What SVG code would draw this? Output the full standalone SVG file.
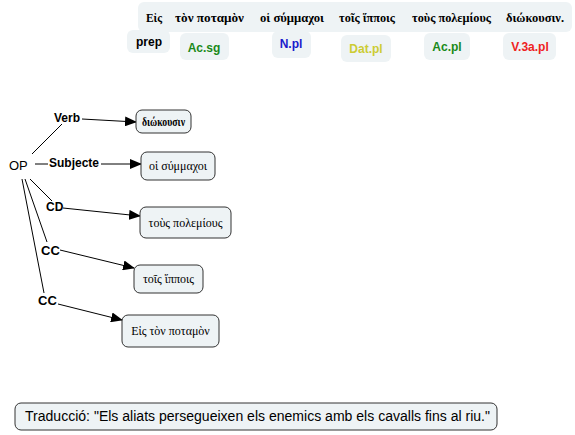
<svg xmlns="http://www.w3.org/2000/svg" width="575" height="435" viewBox="0 0 575 435">
<defs>
<marker id="ah" markerWidth="12" markerHeight="10" refX="11" refY="5" orient="auto" markerUnits="userSpaceOnUse">
<path d="M0,0 L12,5 L0,10 Z" fill="#000"/>
</marker>
<style>
.tag{fill:#eef3f5;stroke:none}
.node{fill:#eef3f5;stroke:#333;stroke-width:1}
.gk{font-family:"Liberation Serif","DejaVu Serif",serif;font-size:12px;fill:#000}
.gkb{font-family:"Liberation Serif","DejaVu Serif",serif;font-size:12px;font-weight:bold;fill:#000}
.lab{font-family:"Liberation Sans",Arial,sans-serif;font-size:12px;font-weight:bold;fill:#000}
.sans{font-family:"Liberation Sans",Arial,sans-serif;font-size:13px;fill:#000}
.tb{font-family:"Liberation Sans",Arial,sans-serif;font-size:12px;font-weight:bold;text-anchor:middle}
.con{stroke:#000;stroke-width:1;fill:none}
</style>
</defs>
<rect width="575" height="435" fill="#fff"/>

<g id="sentence">
<rect class="tag" x="138" y="2" width="434" height="30" rx="6"/>
<text class="gkb" x="146" y="22" textLength="16" lengthAdjust="spacingAndGlyphs">Εἰς</text>
<text class="gkb" x="175" y="22" textLength="69" lengthAdjust="spacingAndGlyphs">τὸν ποταμὸν</text>
<text class="gkb" x="260" y="22" textLength="64" lengthAdjust="spacingAndGlyphs">οἱ σύμμαχοι</text>
<text class="gkb" x="339" y="22" textLength="56" lengthAdjust="spacingAndGlyphs">τοῖς ἵπποις</text>
<text class="gkb" x="412" y="22" textLength="79" lengthAdjust="spacingAndGlyphs">τοὺς πολεμίους</text>
<text class="gkb" x="506" y="22" textLength="58" lengthAdjust="spacingAndGlyphs">διώκουσιν.</text>
</g>
<g id="tag-prep"><rect class="tag" x="127" y="30" width="43" height="23" rx="6"/><text class="tb" x="149" y="46" fill="#000">prep</text></g>
<g id="tag-acsg"><rect class="tag" x="180" y="33" width="49" height="27" rx="6"/><text class="tb" x="204" y="52" fill="#1a8a1a">Ac.sg</text></g>
<g id="tag-npl"><rect class="tag" x="272" y="31" width="39" height="27" rx="6"/><text class="tb" x="291" y="48" fill="#1a1acc">N.pl</text></g>
<g id="tag-datpl"><rect class="tag" x="341" y="35" width="50" height="27" rx="6"/><text class="tb" x="366" y="53" fill="#cccc33">Dat.pl</text></g>
<g id="tag-acpl"><rect class="tag" x="424" y="33" width="46" height="27" rx="6"/><text class="tb" x="447" y="51" fill="#1a8a1a">Ac.pl</text></g>
<g id="tag-v3apl"><rect class="tag" x="503" y="33" width="53" height="27" rx="6"/><text class="tb" x="530" y="51" fill="#ee2222">V.3a.pl</text></g>

<g id="connectors">
<line class="con" x1="32" y1="154" x2="62" y2="124"/>
<line class="con" x1="82" y1="119" x2="136" y2="122" marker-end="url(#ah)"/>
<line class="con" x1="35" y1="164" x2="48" y2="164"/>
<line class="con" x1="101" y1="164" x2="141" y2="164" marker-end="url(#ah)"/>
<line class="con" x1="30" y1="179" x2="52" y2="201"/>
<line class="con" x1="63" y1="208" x2="140" y2="216" marker-end="url(#ah)"/>
<line class="con" x1="25" y1="179" x2="47" y2="242"/>
<line class="con" x1="60" y1="250" x2="134" y2="268" marker-end="url(#ah)"/>
<line class="con" x1="22" y1="179" x2="44" y2="293"/>
<line class="con" x1="58" y1="304" x2="122" y2="320" marker-end="url(#ah)"/>
</g>

<g id="OP"><text class="sans" x="9" y="170">OP</text></g>
<g id="lab-verb"><text class="lab" x="54" y="122">Verb</text></g>
<g id="lab-subj"><text class="lab" x="49" y="167">Subjecte</text></g>
<g id="lab-cd"><text class="lab" x="46" y="211">CD</text></g>
<g id="lab-cc1"><text class="lab" x="41" y="255" style="font-size:13px">CC</text></g>
<g id="lab-cc2"><text class="lab" x="38" y="305" style="font-size:13px">CC</text></g>

<g id="n-verb"><rect class="node" x="136" y="110" width="55" height="23" rx="6"/><text class="gkb" x="142" y="126" textLength="43" lengthAdjust="spacingAndGlyphs">διώκουσιν</text></g>
<g id="n-subj"><rect class="node" x="141" y="152" width="74" height="28" rx="6"/><text class="gk" x="178" y="170" text-anchor="middle">οἱ σύμμαχοι</text></g>
<g id="n-cd"><rect class="node" x="140" y="207" width="91" height="31" rx="6"/><text class="gk" x="185.5" y="227" text-anchor="middle">τοὺς πολεμίους</text></g>
<g id="n-cc1"><rect class="node" x="134" y="265" width="69" height="28" rx="6"/><text class="gk" x="168.5" y="283" text-anchor="middle">τοῖς ἵπποις</text></g>
<g id="n-cc2"><rect class="node" x="122" y="315" width="97" height="32" rx="6"/><text class="gk" x="170.5" y="335" text-anchor="middle">Εἰς τὸν ποταμὸν</text></g>

<g id="translation"><rect class="node" x="15" y="403" width="482" height="27" rx="6"/><text class="sans" x="25" y="421" style="font-size:14px" textLength="465" lengthAdjust="spacingAndGlyphs">Traducció: "Els aliats persegueixen els enemics amb els cavalls fins al riu."</text></g>
</svg>
